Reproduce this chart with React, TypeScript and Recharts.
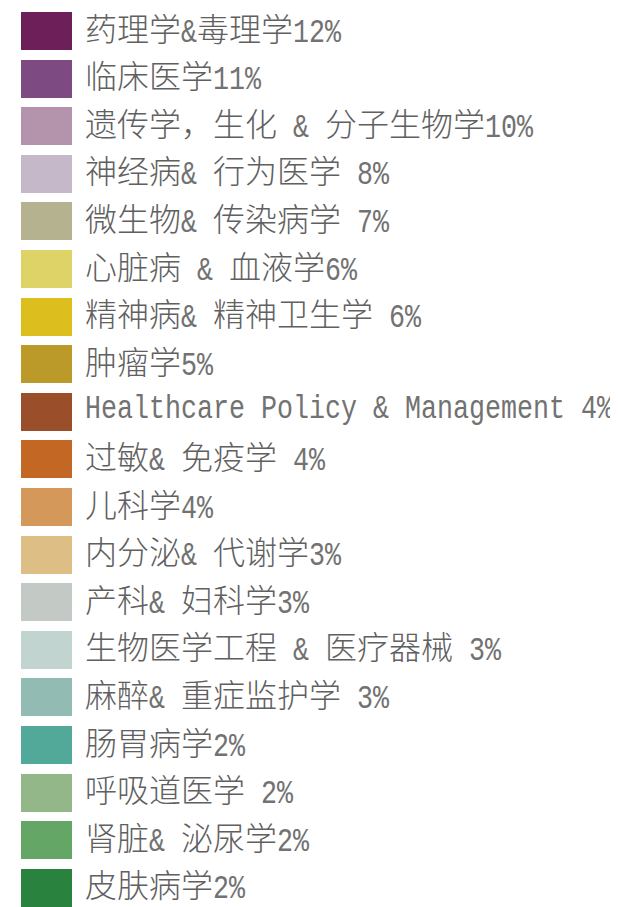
import React from 'react';
import { PieChart, Pie, Cell, Legend } from 'recharts';

const names: string[] = [
  '药理学&毒理学',
  '临床医学',
  '遗传学，生化 & 分子生物学',
  '神经病& 行为医学 ',
  '微生物& 传染病学 ',
  '心脏病 & 血液学',
  '精神病& 精神卫生学 ',
  '肿瘤学',
  'Healthcare Policy & Management ',
  '过敏& 免疫学 ',
  '儿科学',
  '内分泌& 代谢学',
  '产科& 妇科学',
  '生物医学工程 & 医疗器械 ',
  '麻醉& 重症监护学 ',
  '肠胃病学',
  '呼吸道医学 ',
  '肾脏& 泌尿学',
  '皮肤病学',
];

const values: number[] = [12, 11, 10, 8, 7, 6, 6, 5, 4, 4, 4, 3, 3, 3, 3, 2, 2, 2, 2];

const colors: string[] = [
  '#6d1f5a', '#7d4a82', '#b493ad', '#c5b8c8', '#b5b38f', '#ddd366',
  '#dcbf1f', '#bc9a2a', '#9a4f2a', '#c36824', '#d4985b', '#ddbf85',
  '#c3c9c5', '#c1d4d0', '#91bbb3', '#52a99a', '#93b788', '#63a665', '#2a823f',
];

const data = names.map((n, i) => ({ name: n + values[i] + '%', value: values[i], fill: colors[i] }));
const labels = data.map((d) => d.name);

const ROW = 47.6;

const renderText = (text: string) => {
  const runs = text.match(/[\x00-\xff]+|[^\x00-\xff]+/g) || [];
  return runs.map((r, i) =>
    /^[\x00-\xff]/.test(r) ? (
      <span
        key={i}
        style={{
          display: 'inline-block',
          fontFamily: "'Liberation Mono', monospace",
          fontSize: 26.67,
          lineHeight: '22px',
          color: '#727272',
          transform: 'scaleY(1.25)',
          transformOrigin: '50% 66%',
          whiteSpace: 'pre',
        }}
      >
        {r}
      </span>
    ) : (
      <span
        key={i}
        style={{ fontFamily: "'Noto Sans CJK SC', sans-serif", fontSize: 32, fontWeight: 300, whiteSpace: 'pre' }}
      >
        {r}
      </span>
    )
  );
};

const renderLegend = (props: any) => {
  const payload = [...(props.payload || [])].sort(
    (a: any, b: any) => labels.indexOf(a.value) - labels.indexOf(b.value)
  );
  return (
    <div style={{ position: 'relative' }}>
      {payload.map((entry: any, i: number) => (
        <div
          key={i}
          style={{
            position: 'absolute',
            left: 0,
            top: i * ROW,
            height: 38,
            display: 'flex',
            alignItems: 'center',
            whiteSpace: 'pre',
          }}
        >
          <div style={{ width: 51, height: 38, background: entry.color, flex: 'none' }} />
          <span
            style={{
              marginLeft: 13,
              lineHeight: '30px',
              color: '#606060',
              fontWeight: 400,
            }}
          >
            {renderText(entry.value)}
          </span>
        </div>
      ))}
    </div>
  );
};

export default function App() {
  return (
    <div>
      <style>{`body { overflow: hidden; }`}</style>
      <PieChart width={602} height={899} margin={{ top: 0, right: 0, bottom: 0, left: 0 }}>
        <Pie
          data={data}
          dataKey="value"
          nameKey="name"
          cx={-100}
          cy={-100}
          outerRadius={0}
          isAnimationActive={false}
        >
          {data.map((d, i) => (
            <Cell key={i} fill={d.fill} />
          ))}
        </Pie>
        <Legend
          layout="vertical"
          align="left"
          verticalAlign="top"
          content={renderLegend}
          itemSorter={(item: any) => labels.indexOf(item.value)}
          wrapperStyle={{ left: 13, top: 4, width: 600, height: 895 }}
        />
      </PieChart>
    </div>
  );
}
